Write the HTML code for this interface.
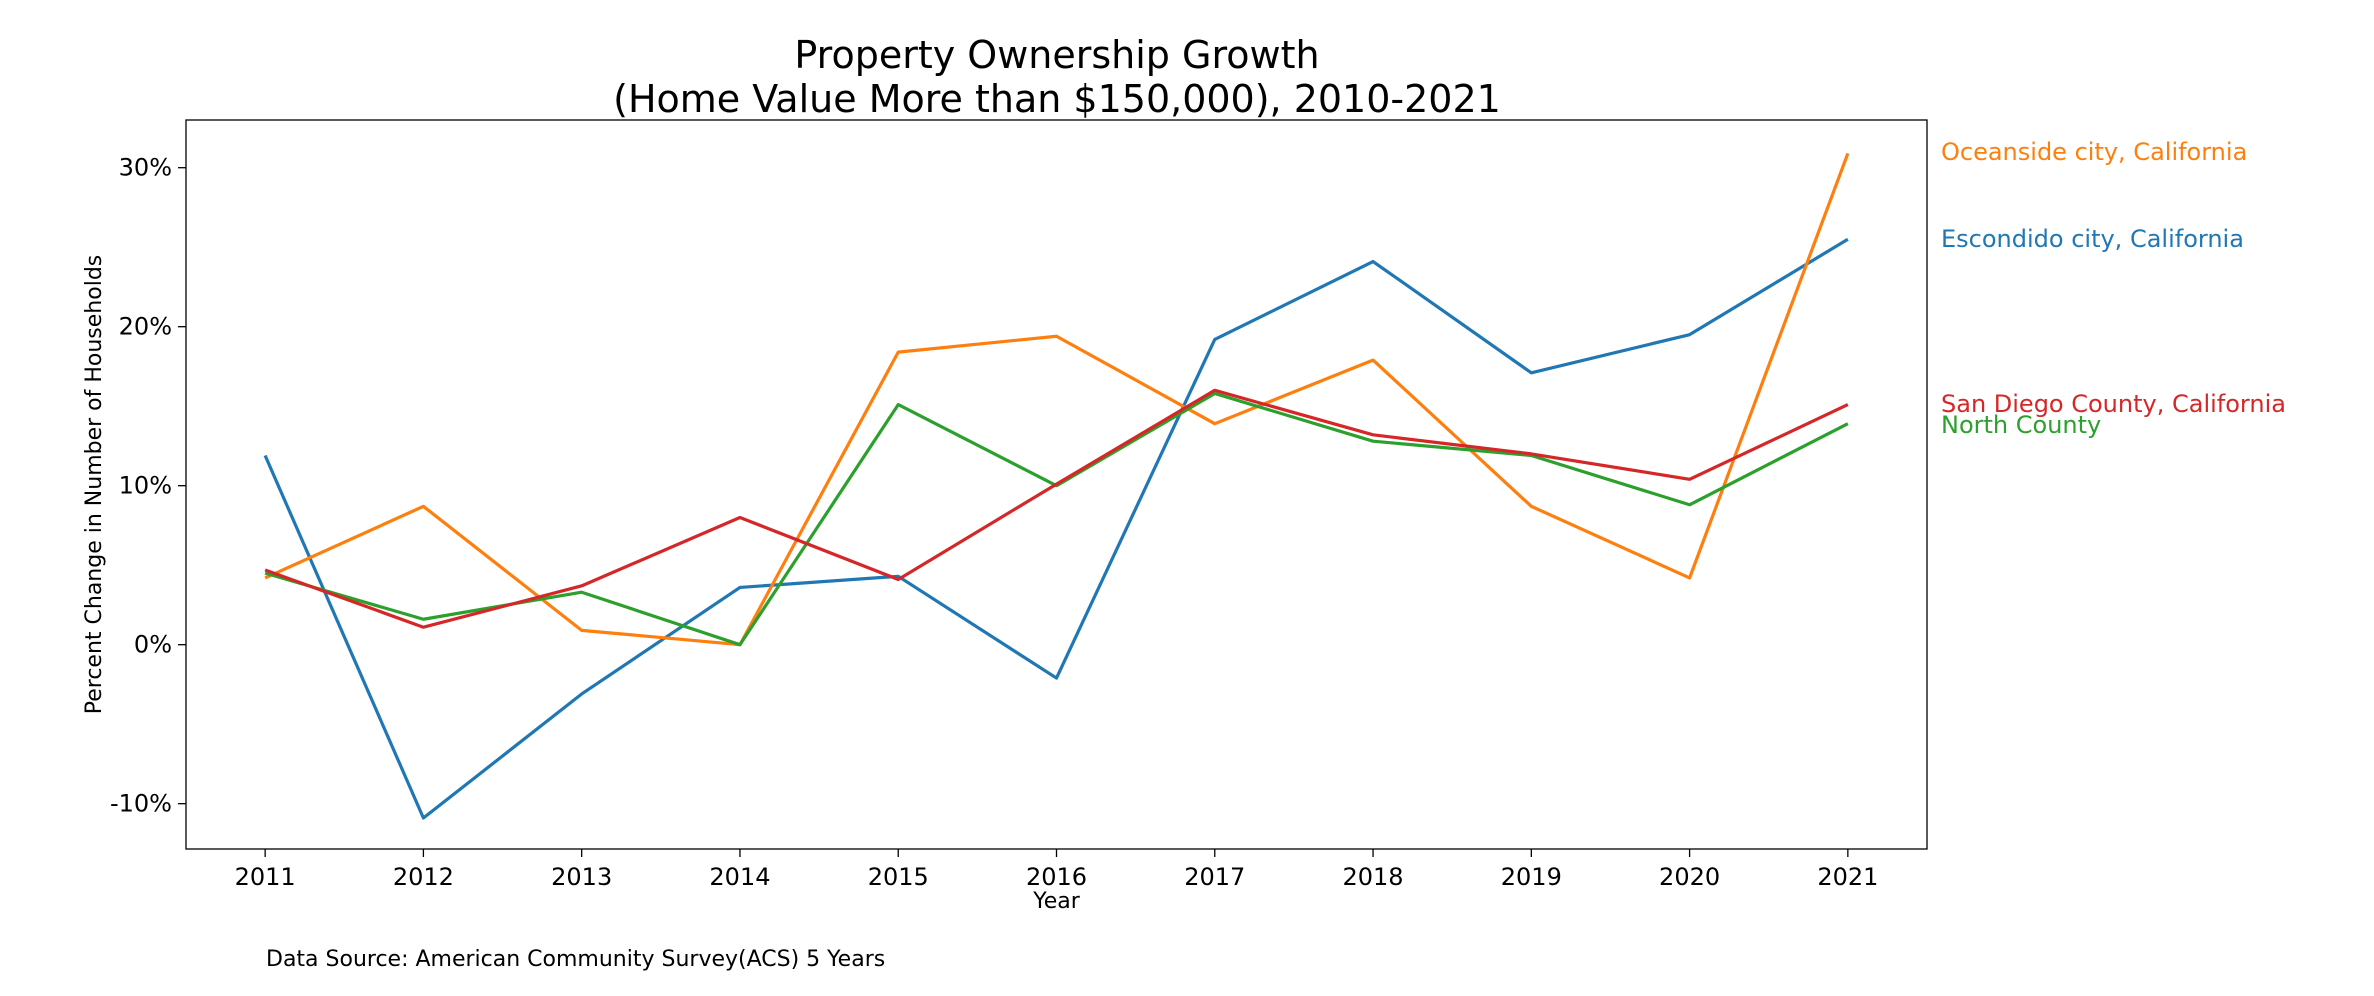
<!DOCTYPE html>
<html><head><meta charset="utf-8"><style>
body{margin:0;background:#fff;}
svg{display:block;font-family:"DejaVu Sans","Liberation Sans",sans-serif;}
</style></head><body>
<svg id="chart" width="2374" height="996"></svg>
<script>
const years=[2011,2012,2013,2014,2015,2016,2017,2018,2019,2020,2021];
const escondido=[11.9,-10.9,-3.1,3.6,4.3,-2.1,19.2,24.1,17.1,19.5,25.5];
const oceanside=[4.2,8.7,0.9,0.0,18.4,19.4,13.9,17.9,8.7,4.2,30.9];
const sanDiego=[4.7,1.1,3.7,8.0,4.1,10.1,16.0,13.2,12.0,10.4,15.1];
const northCounty=[4.5,1.6,3.3,0.0,15.1,10.0,15.8,12.8,11.9,8.8,13.9];
const yTicks=[-10,0,10,20,30];
const seriesNames=["Oceanside city, California","Escondido city, California","San Diego County, California","North County"];

const NS="http://www.w3.org/2000/svg";
const svg=document.getElementById('chart');
const L=186,R=1927,T=120,B=849;
const xMin=2010.5,xMax=2021.5,yMin=-12.85,yMax=33.0;
const xs=v=>L+(v-xMin)/(xMax-xMin)*(R-L);
const ys=v=>B-(v-yMin)/(yMax-yMin)*(B-T);
function el(tag,attrs,txt){const e=document.createElementNS(NS,tag);for(const k in attrs)e.setAttribute(k,attrs[k]);if(txt!==undefined)e.textContent=txt;svg.appendChild(e);return e;}

let t=el('text',{x:1057,y:68,'font-size':38,'text-anchor':'middle',fill:'#000'},'Property Ownership Growth');


t=el('text',{x:1057,y:112,'font-size':38,'text-anchor':'middle',fill:'#000'},'(Home Value More than $150,000), 2010-2021');



yTicks.forEach(v=>{
  const y=ys(v);
  const tk=el('line',{x1:L-8,x2:L,y1:y,y2:y,stroke:'#000','stroke-width':1.3});
  
  
  const lb=el('text',{x:L-14,y:y+8,'font-size':24,'text-anchor':'end',fill:'#000'},v+'%');
  
  
});
years.forEach(v=>{
  const x=xs(v);
  const tk=el('line',{x1:x,x2:x,y1:B,y2:B+8,stroke:'#000','stroke-width':1.3});
  
  
  const lb=el('text',{x:x,y:B+36,'font-size':24,'text-anchor':'middle',fill:'#000'},String(v));
  
  
});

const series=[[oceanside,'#ff7f0e'],[escondido,'#1f77b4'],[sanDiego,'#d62728'],[northCounty,'#2ca02c']];
const drawOrder=[1,0,3,2];
drawOrder.forEach(i=>{
  const [vals,c]=series[i];
  const p=el('polyline',{points:vals.map((v,j)=>xs(years[j])+','+ys(v)).join(' '),fill:'none',stroke:c,'stroke-width':3.2,'stroke-linejoin':'round'});
  
  
});
const labelY=[151,238,403,424];
series.forEach(([vals,c],i)=>{
  const lb=el('text',{x:1941,y:labelY[i]+9,'font-size':24,fill:c},seriesNames[i]);
  
  
});

const frame=el('rect',{x:L,y:T,width:R-L,height:B-T,fill:'none',stroke:'#000','stroke-width':1.3});



t=el('text',{x:(L+R)/2,y:908,'font-size':22,'text-anchor':'middle',fill:'#000'},'Year');


t=el('text',{x:0,y:0,'font-size':22,'text-anchor':'middle',fill:'#000',transform:'translate(101,'+((T+B)/2)+') rotate(-90)'},'Percent Change in Number of Households');


t=el('text',{x:266,y:966,'font-size':22,fill:'#000'},'Data Source: American Community Survey(ACS) 5 Years');


</script>
</body></html>
